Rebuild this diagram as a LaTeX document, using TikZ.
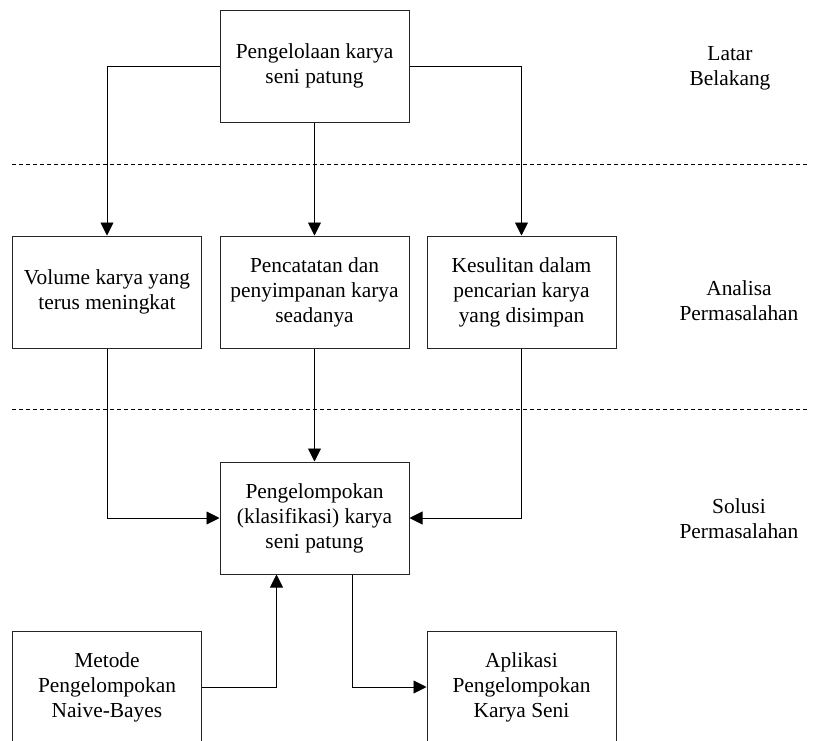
\documentclass[tikz,border=0pt]{standalone}
\usepackage{fontspec}
\setmainfont{Liberation Serif}
\usepackage{tikz}
\usetikzlibrary{arrows.meta}
\usetikzlibrary{calc}
\tikzset{box/.style={draw=black!85, line width=1pt, minimum width=189pt, minimum height=112pt, align=center, inner sep=0pt},
  lbl/.style={align=center, inner sep=0pt},
  sep/.style={dashed, dash pattern=on 4pt off 3pt, line width=0.8pt}}

\begin{document}
\begin{tikzpicture}[x=1pt,y=-1pt,>={Triangle[length=13pt,width=13pt]},line width=0.9pt,font=\fontsize{21.4}{25}\selectfont]
\useasboundingbox (0,0) rectangle (822,740);
\clip (0,0) rectangle (822,740);
%%
\node (kelola) at (314.5,66) [box] {Pengelolaan karya\\seni patung};
  \node (volume) at (107,292) [box] {Volume karya yang\\terus meningkat};
  \node (catat) at (314.5,292) [box] {Pencatatan dan\\penyimpanan karya\\seadanya};
  \node (cari) at (521.5,292) [box] {Kesulitan dalam\\pencarian karya\\yang disimpan};
  \node (klas) at (314.5,518) [box] {Pengelompokan\\(klasifikasi) karya\\seni patung};
  \node (metode) at (107,687) [box] {Metode\\Pengelompokan\\Naive-Bayes};
  \node (aplikasi) at (521.5,687) [box] {Aplikasi\\Pengelompokan\\Karya Seni};
  \node (latar) at (730,68.5) [lbl] {Latar\\Belakang};
  \node (analisa) at (739,301) [lbl] {Analisa\\Permasalahan};
  \node (solusi) at (739,518.5) [lbl] {Solusi\\Permasalahan};
  \draw [sep] (12,164) -- (808,164);
  \draw [sep] (12,409) -- (808,409);
  \draw [->] (kelola.west) -| (volume.north);
  \draw [->] (kelola.south) -- (catat.north);
  \draw [->] (kelola.east) -| (cari.north);
  \draw [->] (volume.south) |- (klas.west);
  \draw [->] (catat.south) -- (klas.north);
  \draw [->] (cari.south) |- (klas.east);
  \draw [->] (metode.east) -| ($(klas.south west)!0.3!(klas.south east)$);
  \draw [->] ($(klas.south west)!0.7!(klas.south east)$) |- (aplikasi.west);
%
\end{tikzpicture}
\end{document}
